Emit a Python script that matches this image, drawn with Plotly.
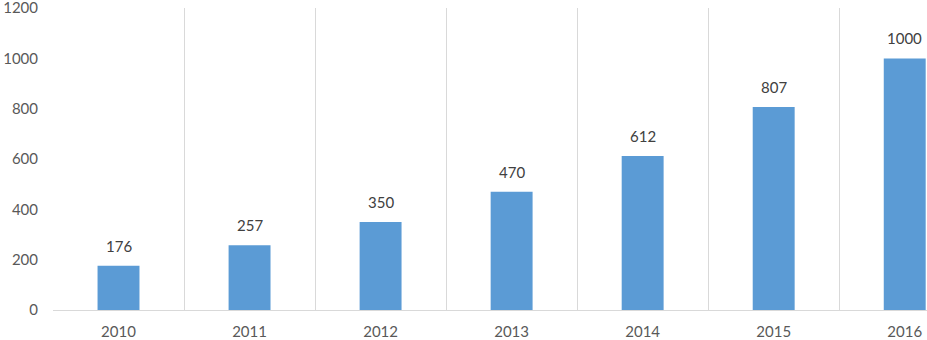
import plotly.graph_objects as go

years = ["2010", "2011", "2012", "2013", "2014", "2015", "2016"]
values = [176, 257, 350, 470, 612, 807, 1000]
y_ticks = [0, 200, 400, 600, 800, 1000, 1200]

idx = list(range(len(years)))
boundaries = [i - 0.5 for i in idx]
x_range = [-0.5, 6.17]

font_family = "Lato, 'Open Sans', sans-serif"

fig = go.Figure()
fig.add_trace(go.Bar(
    x=idx, y=values, width=0.32,
    marker=dict(color="#5B9BD5", line=dict(width=0)),
    hoverinfo="skip",
))
# invisible helper trace for the gridline axis
fig.add_trace(go.Scatter(x=boundaries, y=[0] * len(boundaries), xaxis="x2",
                         mode="markers", marker=dict(opacity=0), hoverinfo="skip",
                         showlegend=False))

for i, v in zip(idx, values):
    fig.add_annotation(x=i, y=v, text=str(v), showarrow=False, yanchor="bottom",
                       yshift=9, font=dict(family=font_family, size=15, color="#404040"))

fig.update_layout(
    width=927, height=340,
    margin=dict(l=53, r=0, t=8, b=30, autoexpand=False),
    paper_bgcolor="white", plot_bgcolor="white",
    showlegend=False,
    font=dict(family=font_family, size=15, color="#595959"),
    xaxis=dict(
        range=x_range, tickmode="array", tickvals=idx, ticktext=years,
        showgrid=False, zeroline=False, showline=True, linecolor="#D9D9D9", linewidth=1,
        ticks="", ticklabelstandoff=8, automargin=False, ticklabeloverflow="allow",
        tickfont=dict(family=font_family, size=15, color="#595959"),
    ),
    xaxis2=dict(
        range=x_range, overlaying="x", tickmode="array", tickvals=boundaries,
        showgrid=True, gridcolor="#D9D9D9", gridwidth=1, showticklabels=False,
        zeroline=False, showline=False, ticks="", automargin=False,
    ),
    yaxis=dict(
        range=[0, 1200.5], tickmode="array", tickvals=y_ticks,
        showgrid=False, zeroline=False, showline=False, ticks="",
        ticklabelstandoff=14, automargin=False, ticklabeloverflow="allow",
        tickfont=dict(family=font_family, size=15, color="#595959"),
    ),
)

fig.write_html("out.html", post_script="document.body.style.margin='0';",
               config={"displayModeBar": False})
